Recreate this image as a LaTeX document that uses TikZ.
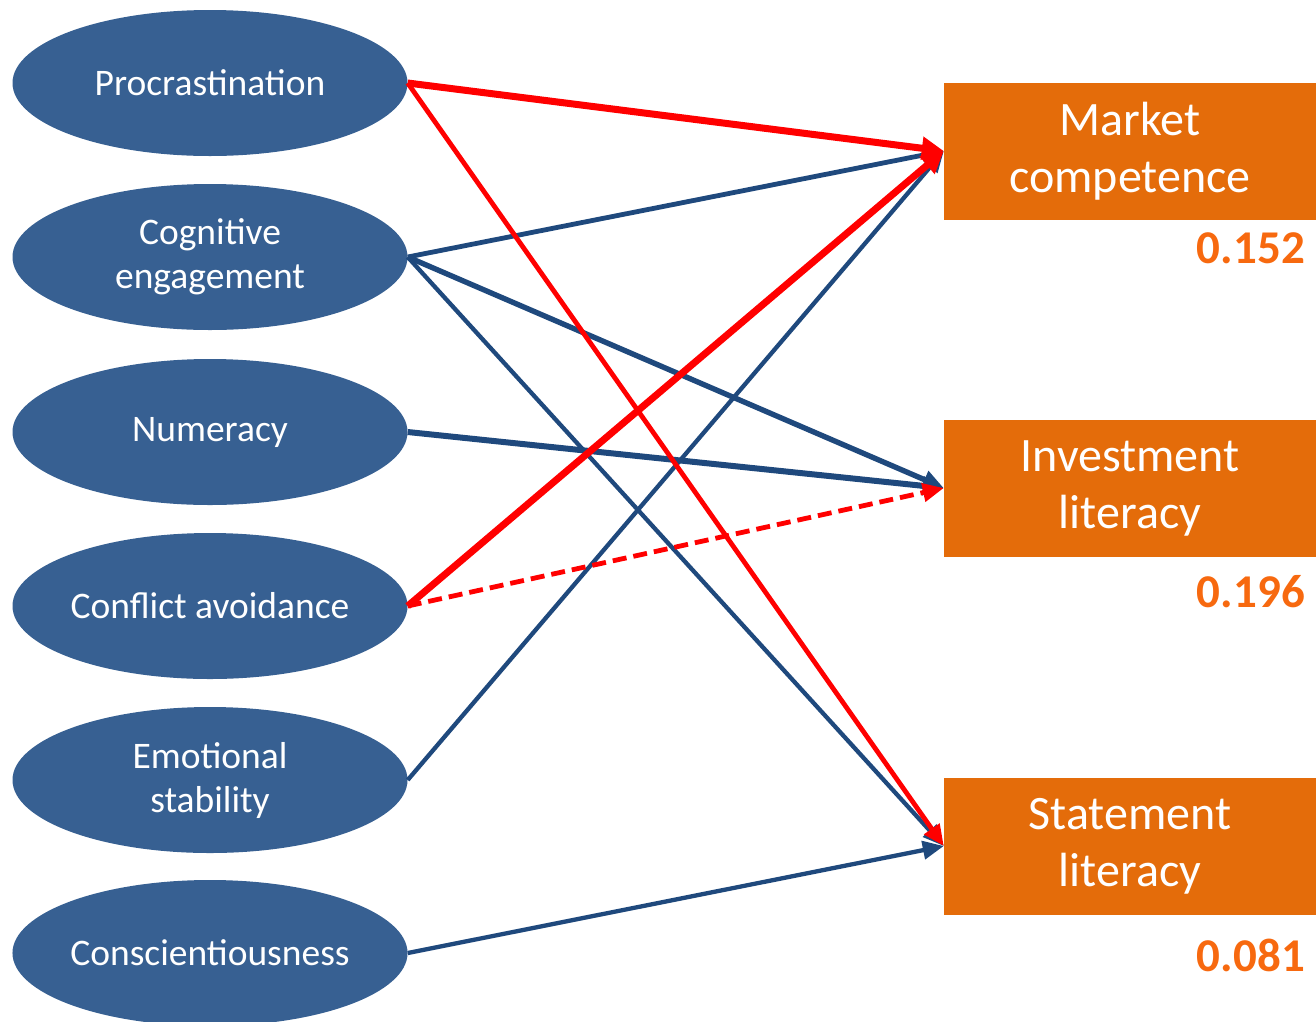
\documentclass[tikz,border=0pt]{standalone}
\usepackage{fontspec}
\setmainfont{Carlito}
\usetikzlibrary{shapes.geometric,arrows.meta}
\definecolor{ellblue}{HTML}{376092}
\definecolor{boxorange}{HTML}{E46C0A}
\definecolor{numorange}{HTML}{F7690F}
\definecolor{lineblue}{HTML}{1F497D}
\definecolor{linered}{HTML}{FF0000}
\begin{document}
\begin{tikzpicture}[x=1pt,y=-1pt,
  ell/.style={ellipse,fill=ellblue,draw=none,minimum width=395pt,minimum height=146pt,inner sep=0pt,text=white,font=\fontsize{37.5}{44}\selectfont,align=center},
  outbox/.style={rectangle,fill=boxorange,draw=none,minimum width=372pt,minimum height=137pt,inner sep=0pt,text=white,font=\fontsize{48}{57}\selectfont,align=center},
  rsq/.style={text=numorange,font=\fontsize{47}{50}\bfseries\selectfont,anchor=east,inner sep=0pt},
  bl/.style={draw=lineblue,-{Triangle[length=21pt,width=18pt]}},
  rdthick/.style={draw=linered,line width=7pt,-{Triangle[length=22pt,width=22pt]}},
  rd/.style={draw=linered,line width=4.8pt,-{Triangle[length=21pt,width=18pt]}},
]
\useasboundingbox (0,0) rectangle (1316,1021);
\node[ell] (p) at (210,83) {Procrastination};
\node[ell] (c) at (210,257) {Cognitive\\engagement};
\node[ell] (n) at (210,432) {Numeracy};
\node[ell] (a) at (210,606) {Conflict avoidance};
\node[ell] (e) at (210,780) {Emotional\\stability};
\node[ell] (s) at (210,953) {Conscientiousness};

\node[outbox] (m) at (1130,151) {Market\\competence};
\node[outbox] (i) at (1130,488) {Investment\\literacy};
\node[outbox] (st) at (1130,846) {Statement\\literacy};

\node[rsq] (rm) at (1305,248) {0.152};
\node[rsq] (ri) at (1305,592) {0.196};
\node[rsq] (rs) at (1305,955) {0.081};

\draw[bl,line width=4.8pt] (c.east) -- (m.west);
\draw[bl,line width=5.4pt] (c.east) -- (i.west);
\draw[bl,line width=4.3pt] (c.east) -- (st.west);
\draw[bl,line width=6pt] (n.east) -- (i.west);
\draw[bl,line width=4.3pt] (e.east) -- (m.west);
\draw[bl,line width=4.3pt] (s.east) -- (st.west);
\draw[rd,dashed,dash pattern=on 14pt off 7pt] (a.east) -- (i.west);
\draw[rd] (p.east) -- (st.west);
\draw[rdthick] (p.east) -- (m.west);
\draw[rdthick] (a.east) -- (m.west);
\end{tikzpicture}
\end{document}
